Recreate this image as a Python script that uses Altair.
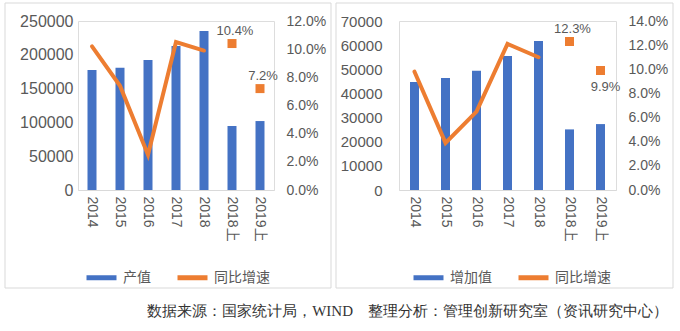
import altair as alt
import pandas as pd

cats = ["2014", "2015", "2016", "2017", "2018", "2018上", "2019上"]
line_cats = ["2014", "2015", "2016", "2017", "2018"]
point_cats = ["2018上", "2019上"]

left_bar = [177500, 181000, 192300, 213000, 235200, 94700, 102000]
left_line = [0.102, 0.074, 0.025, 0.105, 0.099]
left_pts = [0.104, 0.072]

right_bar = [44700, 46400, 49400, 55500, 61700, 25100, 27300]
right_line = [0.098, 0.039, 0.065, 0.121, 0.110]
right_pts = [0.123, 0.099]

left_ticks = [0, 50000, 100000, 150000, 200000, 250000]
left_rate_ticks = [0.0, 0.02, 0.04, 0.06, 0.08, 0.10, 0.12]
right_ticks = [0, 10000, 20000, 30000, 40000, 50000, 60000, 70000]
right_rate_ticks = [0.0, 0.02, 0.04, 0.06, 0.08, 0.10, 0.12, 0.14]

footer = "数据来源：国家统计局，WIND\u00a0\u00a0\u00a0\u00a0整理分析：管理创新研究室（资讯研究中心）"

BLUE = "#4472C4"
ORANGE = "#ED7D31"
GRAY = "#595959"
FONT = "Liberation Sans, Noto Sans CJK SC"


def panel(bar_vals, line_vals, pt_vals, bar_name, ticks, rate_ticks, width,
          frame, left_font, left_pad, legend_x, below_cats):
    bars_df = pd.DataFrame({"cat": cats, "value": bar_vals, "series": bar_name})
    line_df = pd.DataFrame({"cat": line_cats, "rate": line_vals, "series": "同比增速"})
    pts_df = pd.DataFrame({"cat": point_cats, "rate": pt_vals})

    xenc = alt.X("cat:N", sort=cats,
                 scale=alt.Scale(domain=cats, paddingInner=0, paddingOuter=0),
                 axis=alt.Axis(title=None, labelAngle=90, ticks=False,
                               domainColor="#d9d9d9", labelColor=GRAY,
                               labelFontSize=14, labelPadding=6))
    color = alt.Color("series:N",
                      scale=alt.Scale(domain=[bar_name, "同比增速"], range=[BLUE, ORANGE]),
                      legend=alt.Legend(title=None, orient="none", legendX=legend_x,
                                        legendY=239, direction="horizontal",
                                        symbolType="stroke", symbolSize=900,
                                        symbolStrokeWidth=5, labelFontSize=14,
                                        labelColor=GRAY, columnPadding=16,
                                        labelOffset=4))
    yrate_scale = alt.Scale(domain=[0, rate_ticks[-1]], nice=False)
    rate_axis = alt.Axis(title=None, orient="right", values=rate_ticks, grid=False,
                         ticks=False, domain=False, labelColor=GRAY,
                         labelFontSize=14, labelPadding=12, labelOverlap=False,
                         labelSeparation=0, format=".1%")
    yrate = alt.Y("rate:Q", scale=yrate_scale, axis=rate_axis)

    fx0, fx1, fy0, fy1 = frame
    frame_layer = alt.Chart(alt.Data(values=[{"a": 1}])).mark_rect(
        fillOpacity=0, stroke="#d9d9d9", strokeWidth=1
    ).encode(x=alt.value(fx0), x2=alt.value(fx1), y=alt.value(fy0), y2=alt.value(fy1))

    bars = alt.Chart(bars_df).mark_bar(size=9).encode(
        x=xenc,
        y=alt.Y("value:Q", scale=alt.Scale(domain=[0, ticks[-1]], nice=False),
                axis=alt.Axis(title=None, orient="left", values=ticks, grid=False,
                              ticks=False, domain=False, labelColor=GRAY,
                              labelFontSize=left_font, labelPadding=left_pad,
                              labelOverlap=False, format="d")),
        color=color,
    )

    line = alt.Chart(line_df).mark_line(strokeWidth=4, strokeCap="round").encode(
        x=xenc, y=yrate, color=color,
    )
    pts = alt.Chart(pts_df).mark_square(size=81, color=ORANGE, opacity=1).encode(
        x=xenc, y=yrate
    )
    above = alt.Chart(pts_df).transform_filter(
        alt.FieldOneOfPredicate(field="cat", oneOf=[c for c in point_cats if c not in below_cats] or ["__none__"])
    ).mark_text(dy=-13, dx=3, fontSize=13, color=GRAY).encode(
        x=xenc, y=yrate, text=alt.Text("rate:Q", format=".1%"))
    below = alt.Chart(pts_df).transform_filter(
        alt.FieldOneOfPredicate(field="cat", oneOf=below_cats or ["__none__"])
    ).mark_text(dy=17, dx=5, fontSize=13, color=GRAY).encode(
        x=xenc, y=yrate, text=alt.Text("rate:Q", format=".1%"))

    right = alt.layer(line, pts, above, below)
    return alt.layer(frame_layer, bars, right).resolve_scale(y="independent").properties(
        width=width, height=169)


left = panel(left_bar, left_line, left_pts, "产值", left_ticks, left_rate_ticks, 196,
             (-73, 253, -18, 267), 16, 5, 6, [])
right = panel(right_bar, right_line, right_pts, "增加值", right_ticks, right_rate_ticks, 217,
              (-63, 274, -18, 267), 15, 17, 12, ["2019上"])

chart = alt.hconcat(left, right, spacing=3).resolve_scale(color="independent").properties(
    title=alt.TitleParams(footer, orient="bottom", anchor="end", fontSize=15,
                          fontWeight="normal", color="#333333", offset=15, dx=-6,
                          font="Liberation Serif, serif"),
    padding={"left": 4, "top": 2, "right": 0, "bottom": 0},
    background="white",
).configure_view(stroke=None).configure(font=FONT)

chart.save("out.html", embed_options={"renderer": "svg", "actions": False})
